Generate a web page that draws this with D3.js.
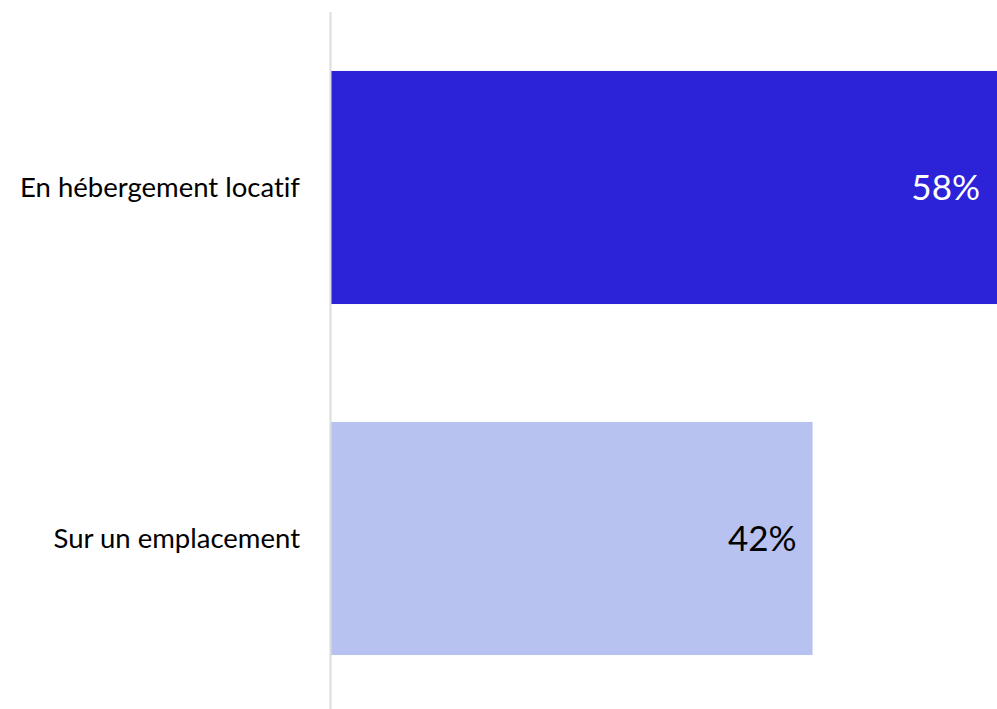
<!DOCTYPE html>
<html><head><meta charset="utf-8">
<script src="https://cdn.jsdelivr.net/npm/d3@7"></script>
<style>body{margin:0;background:#fff;}svg{display:block;}text{font-variant-ligatures:none;font-feature-settings:"liga" 0,"dlig" 0;}</style>
</head><body>
<svg id="chart" width="997" height="709"></svg>
<script>
const categories = ["En hébergement locatif", "Sur un emplacement"];
const values = [58, 42];
const valueLabels = ["58%", "42%"];
const barColors = ["#2c23d9", "#b7c2f0"];
const textColors = ["#ffffff", "#000000"];

const svg = d3.select("#chart");
const W = 997, H = 709;
const x = d3.scaleLinear().domain([0, 58]).range([331, 996]);
const y = d3.scaleBand().domain(categories).range([12, 714]).paddingInner(0.336).paddingOuter(0.168);

svg.selectAll("rect.bar").data(categories).join("rect")
  .attr("class", "bar")
  .attr("x", x(0))
  .attr("y", d => y(d))
  .attr("width", (d, i) => x(values[i]) - x(0) + (i === 0 ? 1 : 0))
  .attr("height", y.bandwidth())
  .attr("fill", (d, i) => barColors[i]);

svg.append("line")
  .attr("x1", 330.5).attr("x2", 330.5)
  .attr("y1", 12).attr("y2", H)
  .attr("stroke", "#dcdcdc").attr("stroke-width", 2);

svg.selectAll("text.cat").data(categories).join("text")
  .attr("class", "cat")
  .attr("x", 300)
  .attr("y", d => y(d) + y.bandwidth() / 2)
  .attr("dy", "0.35em")
  .attr("text-anchor", "end")
  .attr("font-family", "Lato, sans-serif")
  .attr("font-size", 27.5)
  .attr("fill", "#000")
  .text(d => d);

svg.selectAll("text.val").data(categories).join("text")
  .attr("class", "val")
  .attr("x", (d, i) => x(values[i]) - 16)
  .attr("y", d => y(d) + y.bandwidth() / 2)
  .attr("dy", "0.35em")
  .attr("text-anchor", "end")
  .attr("font-family", "Lato, sans-serif")
  .attr("font-size", 35)
  .attr("fill", (d, i) => textColors[i])
  .text((d, i) => valueLabels[i]);
</script>
</body></html>
